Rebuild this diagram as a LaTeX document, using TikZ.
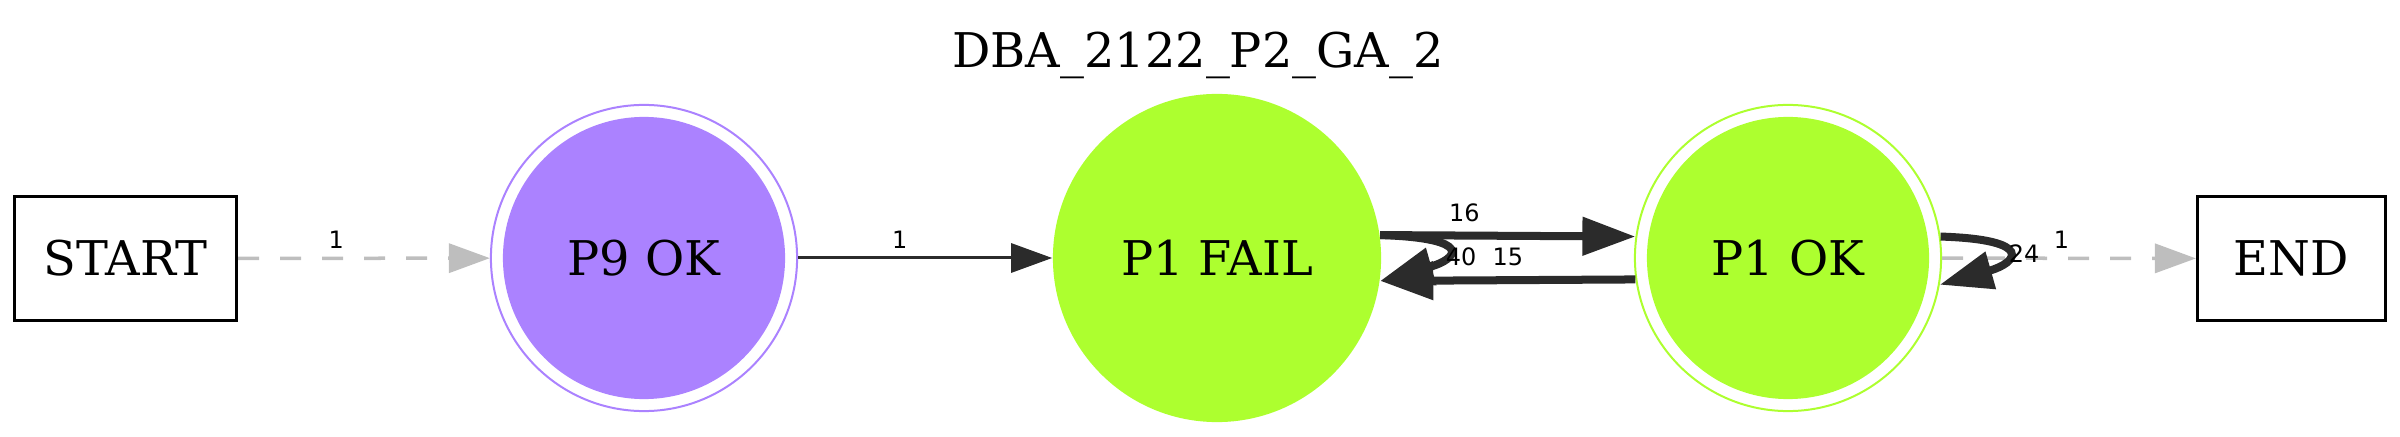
\documentclass[tikz,border=0pt]{standalone}
\usepackage{fontspec}
\setmainfont{DejaVu Serif}
\newfontfamily\edgefont{DejaVu Sans}
\usepackage{tikz}
\usetikzlibrary{arrows.meta,positioning}
\definecolor{stateviolet}{HTML}{AB82FF}
\definecolor{stategreen}{HTML}{ADFF2F}
\definecolor{edgedark}{HTML}{2B2B2B}
\definecolor{edgegrey}{HTML}{BEBEBE}

\begin{document}
\begin{tikzpicture}[x=0.01cm,y=-0.01cm,>={Triangle[length=0.41cm,width=0.29cm]},
  statefont/.style={font=\fontsize{13.6}{16}\selectfont},
  termbox/.style={statefont,draw,line width=0.03cm,minimum height=1.24cm,inner sep=0},
  ring/.style={statefont,circle,draw=#1,line width=0.02cm,minimum size=3.06cm,inner sep=0,
    path picture={\fill[#1] (path picture bounding box.center) circle (1.41cm);}},
  blob/.style={statefont,circle,fill=#1,minimum size=3.28cm,inner sep=0},
  count/.style={font=\edgefont\fontsize{6.8}{8}\selectfont,text=black,inner sep=0},
  ghost/.style={edgegrey,line width=0.035cm,dash pattern=on 0.21cm off 0.21cm,->},
  plain/.style={edgedark,line width=0.03cm,->},
  heavy/.style={edgedark,line width=0.08cm,-{Triangle[length=0.53cm,width=0.37cm]}}]
\useasboundingbox (0,0) rectangle (2400,437);
% title
\node[statefont,anchor=base] (title) at (1198,68) {DBA\_2122\_P2\_GA\_2};
% states
\node[termbox,minimum width=2.22cm] (start) at (125.5,258.5) {START};
\node[ring=stateviolet] (p9ok) at (644,258) {P9 OK};
\node[blob=stategreen] (p1fail) at (1217,258) {P1 FAIL};
\node[ring=stategreen] (p1ok) at (1788,258) {P1 OK};
\node[termbox,minimum width=1.88cm] (end) at (2291.5,258.5) {END};
% entry and exit
\draw[ghost] (start) -- node[count,anchor=south,pos=0.39,yshift=0.08cm] (l1) {1} (p9ok);
\draw[ghost] (p1ok) -- node[count,anchor=south,pos=0.47,yshift=0.08cm] (l7) {1} (end);
% transitions
\draw[plain] (p9ok) -- node[count,anchor=south,pos=0.40,yshift=0.08cm] (l2) {1} (p1fail);
\draw[heavy] (p1fail.8) -- node[count,anchor=south,pos=0.33,yshift=0.1cm] (l3) {16} (p1ok.172);
\draw[heavy] (p1ok.188) -- node[count,anchor=south,pos=0.5,yshift=0.1cm] (l4) {15} (p1fail.-8);
% self loops
\draw[heavy] (p1fail.8) .. controls +(95,3) and +(78,-22) .. node[count,pos=0.5,xshift=0.16cm,yshift=-0.06cm] (l5) {40} (p1fail.-8);
\draw[heavy] (p1ok.8) .. controls +(95,3) and +(78,-22) .. node[count,pos=0.5,xshift=0.19cm] (l6) {24} (p1ok.-10);
\end{tikzpicture}
\end{document}
